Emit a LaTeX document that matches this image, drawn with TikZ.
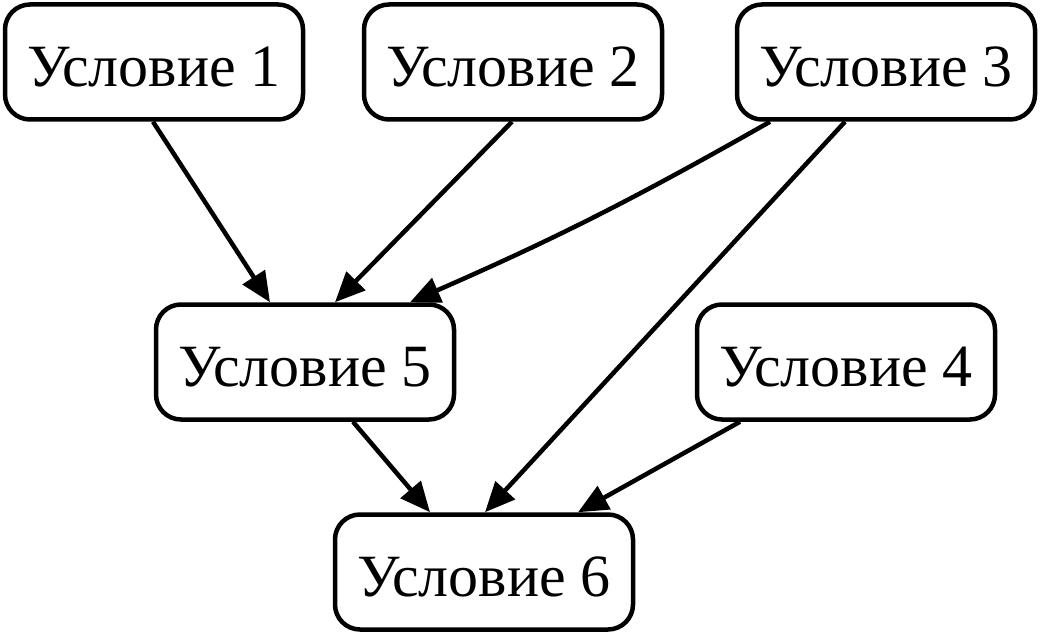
\documentclass[tikz,border=0pt]{standalone}
\usepackage{fontspec}
\setmainfont{Liberation Serif}
\usetikzlibrary{arrows.meta}
\begin{document}
\begin{tikzpicture}[x=1pt,y=-1pt,
  cond/.style={draw,line width=4.5pt,rounded corners=25pt,minimum width=298pt,minimum height=115pt,inner sep=0pt,text height=49pt,text depth=0pt,font=\fontsize{60}{72}\selectfont},
  conn/.style={line width=4.5pt,-{Triangle[length=30pt,width=26pt]}}]
\useasboundingbox (0,0) rectangle (1041,636);
\node[cond] (n1) at (154,62) {Условие 1};
\node[cond] (n2) at (513,62) {Условие 2};
\node[cond] (n3) at (886,62) {Условие 3};
\node[cond] (n5) at (305,362) {Условие 5};
\node[cond] (n4) at (846,362) {Условие 4};
\node[cond] (n6) at (484,572) {Условие 6};
\draw[conn] ([xshift=-1pt]n1.south) -- ([xshift=-35pt]n5.north);
\draw[conn] ([xshift=-1pt]n2.south) -- ([xshift=30pt]n5.north);
\draw[conn] ([xshift=-116pt]n3.south) to[bend left=3] ([xshift=105pt]n5.north);
\draw[conn] ([xshift=-41pt]n3.south) -- ([xshift=1pt]n6.north);
\draw[conn] ([xshift=48pt]n5.south) -- ([xshift=-54pt]n6.north);
\draw[conn] ([xshift=-106pt]n4.south) -- ([xshift=94pt]n6.north);
\end{tikzpicture}
\end{document}
